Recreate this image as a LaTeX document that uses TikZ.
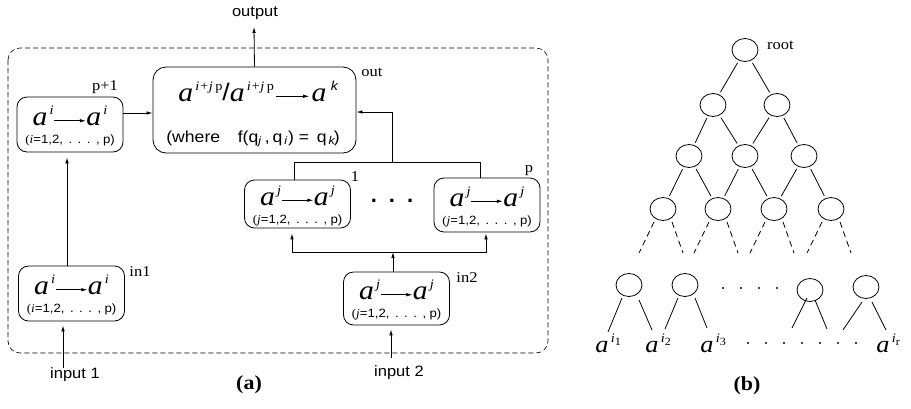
\documentclass[tikz,border=0pt]{standalone}
\usepackage{fontspec}
\setmainfont{Liberation Serif}
\setsansfont{Liberation Sans}
\usetikzlibrary{arrows.meta,shapes.geometric}

\tikzset{
  wide/.style={xscale=1.1},
  cell/.style={draw, rounded corners=10pt, inner sep=0pt, minimum width=106pt},
  tag/.style={wide, font=\fontsize{15}{15}\selectfont},
  caption/.style={wide, font=\fontsize{20}{20}\selectfont\bfseries},
  sans/.style={wide, font=\fontsize{15}{15}\selectfont\sffamily},
  vert/.style={draw, ellipse, minimum width=26pt, minimum height=23pt, inner sep=0pt},
  link/.style={shorten <=2.5pt, shorten >=2.5pt},
}
\newcommand\va{{\fontsize{27}{27}\selectfont\textit{a}}}
\newcommand\ups[1]{\raisebox{11pt}{\kern2pt\fontsize{13}{13}\selectfont\textit{#1}}}
\newcommand\harrow[1]{\raisebox{3pt}{\tikz\draw[line width=0.8pt, -{Latex[length=5.5pt,width=3.5pt]}] (0pt,0pt) -- (#1,0pt);}}
\newcommand\idx[1]{{\fontsize{12}{12}\selectfont(\textit{#1}\sffamily=1,2,\hspace{5pt}.\hspace{5pt}.\hspace{5pt}.\hspace{5pt},\hspace{3pt}p)}}

\begin{document}
\begin{tikzpicture}[x=1pt, y=-1pt, line width=0.8pt, >={Latex[length=6pt,width=3.5pt]}]
  \useasboundingbox (0,0) rectangle (911,408);
  % Dashed frame round (a).
  \draw[line width=0.6pt, dash pattern=on 5pt off 3pt, rounded corners=12pt] (8,48) rectangle (548,353);
  % Cells.
  \foreach \nm/\x/\y/\h/\v in {p1/70/124.5/55/i, in1/71.5/293.5/55/i, b1/297.5/204/48/j, bp/487/205/54/j, in2/396.5/298.5/53/j}
  {
    \node[cell, minimum height=\h pt] (\nm) at (\x,\y) {};
    \node[wide, anchor=base] at ([yshift=-1pt]\nm.center) {\va\ups{\v}\harrow{29pt}\va\ups{\v}};
    \node[wide, anchor=base] at ([yshift=-19pt]\nm.center) {\idx{\v}};
  }
  \node[cell, minimum width=203pt, minimum height=86pt, rounded corners=13pt] (out) at (254.5,110) {};
  \node[wide, anchor=base] at ([xshift=4pt, yshift=9pt]out.center)
    {\va\ups{i+j\,\upshape p}\raisebox{1pt}{\fontsize{24}{24}\selectfont\sffamily/}\va\ups{i+j\,\upshape p}\,\harrow{30pt}\,\va\ups{\sffamily\,k}};
  \node[wide, anchor=base, font=\fontsize{16}{16}\selectfont\sffamily] at ([xshift=-1.5pt, yshift=-32pt]out.center)
    {(where\quad f(q\textsubscript{\textit{j}}\,,\,q\textsubscript{\,\textit{i}}) =\, q\textsubscript{\,\textit{k}}\kern-2pt)};
  % Cell tags.
  \node[tag] at (105,87) {p+1};
  \node[tag] at (140,272) {in1};
  \node[tag] at (467,278) {in2};
  \node[tag] at (355,177) {1};
  \node[tag] at (529,171) {p};
  \node[tag] at (372,72) {out};
  \node at (392,201) {\fontsize{22}{22}\selectfont\sffamily\bfseries .\hspace{12pt}.\hspace{12pt}.};
  % Connectors.
  \coordinate (o) at (254,27);
  \coordinate (in1x) at (63,368);
  \coordinate (in2x) at (391,358);
  \coordinate (j) at (392,162);
  \coordinate (k) at (393,252);
  \node[sans] at (255,13) {output};
  \node[sans] at (75,375) {input 1};
  \node[sans] at (399,373) {input 2};
  \draw[->] (out.north) -- (o);
  \draw[->, shorten >=4pt] (in1x) -- (in1x |- in1.south);
  \draw[->, shorten >=4pt] (in2x) -- (in2x |- in2.south);
  \draw[->, shorten >=5pt] ([xshift=-4.5pt]in1.north) -- ([xshift=-4.5pt]in1.north |- p1.south);
  \draw[->] (p1.east |- 0,113) -- (out.west |- 0,113);
  \draw ([xshift=-3.5pt]b1.north) |- ([xshift=-7pt]bp.north |- j) -- ([xshift=-7pt]bp.north);
  \draw[->] (j) |- (out.east |- 0,112);
  \draw[->] ([xshift=-3.5pt]in2.north) -- (k);
  \draw[->, shorten >=5pt] (k) -| ([xshift=-5.5pt]b1.south);
  \draw[->, shorten >=1pt] (k) -| ([xshift=-1pt]bp.south);
  \node[caption] at (249,385) {(a)};

  % Tree (b).
  \foreach \nm/\x/\y in {r/745/50, b1t/713/105, b2t/777/105, c1/689/156, c2/745/156, c3/804/156,
                         d1/663/209, d2/718/209, d3/774/209, d4/831/209,
                         e1/629/285, e2/685/285, e3/810/290, e4/866/287}
    \node[vert] (\nm) at (\x,\y) {};
  \node[tag, anchor=west] at (763,45) {root};
  \foreach \u/\w in {r/b1t, r/b2t, b1t/c1, b1t/c2, b2t/c2, b2t/c3, c1/d1, c1/d2, c2/d2, c2/d3, c3/d3, c3/d4}
    \draw[link] (\u) -- (\w);
  % Dashed stubs below the fourth level.
  \foreach \nm in {d1,d2,d3,d4}
  {
    \draw[dash pattern=on 6pt off 4pt] (\nm) ++(-9,13) -- ++(-15,31);
    \draw[dash pattern=on 6pt off 4pt] (\nm) ++(9,13) -- ++(11,31);
  }
  % Leaves.
  \draw (e1) ++(-7,13) -- ++(-14,34);  \draw (e1) ++(10,15) -- ++(13,30);
  \draw (e2) ++(-7,13) -- ++(-13,31);  \draw (e2) ++(10,13) -- ++(12,30);
  \draw (e3) ++(-3,8) -- ++(-15,30);   \draw (e3) ++(5,10) -- ++(12,29);
  \draw (e4) ++(-4,15) -- ++(-19,28);  \draw (e4) ++(6,15) -- ++(14,28);
  \foreach \i in {0,...,3}
    \fill (723+18*\i,288) circle (1.1pt);
  \foreach \i in {0,...,6}
    \fill (748+18*\i,343) circle (1.1pt);
  \foreach \x/\s in {595/1, 645/2, 700/3, 876/r}
    \node[wide, anchor=base west, inner sep=0pt] at (\x,352)
      {\fontsize{24}{24}\selectfont\textit{a}\raisebox{10pt}{\kern2pt\fontsize{13}{13}\selectfont\textit{i}\raisebox{-3pt}{\fontsize{11}{11}\selectfont\s}}};
  \node[caption] at (747,386) {(b)};
\end{tikzpicture}
\end{document}
